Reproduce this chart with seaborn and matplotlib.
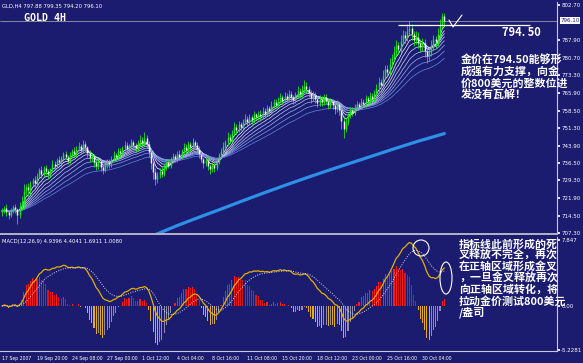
import numpy as np
import pandas as pd
import matplotlib
matplotlib.use("Agg")
import matplotlib.pyplot as plt
import matplotlib.transforms as mtransforms
from matplotlib.lines import Line2D
from matplotlib.patches import Ellipse
import seaborn as sns

# ---------------- data ----------------
first_open = 716.0
close = [
    716.5, 717.8, 716.2, 715.0, 716.8, 718.0, 717.2, 714.8, 718.6, 720.3,
    724.9, 726.4, 725.1, 727.8, 729.6, 728.4, 731.2, 733.5, 732.0, 734.6,
    733.1, 731.8, 734.0, 736.2, 735.4, 737.9, 736.8, 738.5, 740.2, 739.1,
    737.6, 739.8, 741.5, 740.3, 742.6, 743.8, 742.1, 744.5, 743.2, 740.8,
    738.5, 739.6, 736.9, 735.2, 737.4, 734.8, 733.6, 735.9, 737.2, 736.0,
    738.4, 740.1, 739.3, 741.7, 740.6, 742.8, 744.0, 742.5, 743.9, 745.2,
    744.1, 742.7, 744.8, 746.3, 745.0, 747.1, 744.6, 741.2, 736.5, 733.0,
    729.8, 731.6, 733.4, 732.1, 735.0, 736.8, 735.5, 737.9, 739.6, 738.2,
    740.5, 739.3, 741.8, 743.4, 742.0, 744.6, 743.1, 745.3, 744.0, 742.6,
    740.3, 738.1, 736.4, 737.8, 735.2, 733.9, 735.7, 734.5, 737.1, 739.8,
    741.5, 743.9, 745.2, 747.6, 746.3, 749.1, 751.8, 750.4, 752.7, 751.5,
    753.9, 755.2, 753.6, 755.8, 754.4, 756.9, 755.7, 757.3, 756.1, 758.4,
    757.2, 759.6, 758.3, 760.8, 762.1, 760.9, 762.7, 764.0, 762.5, 764.8,
    763.4, 765.6, 764.2, 762.8, 765.1, 766.9, 765.3, 767.5, 769.0, 767.6,
    765.8, 763.9, 765.2, 763.4, 761.7, 763.5, 762.0, 764.3, 762.6, 760.8,
    762.4, 760.7, 759.1, 761.3, 758.6, 754.2, 751.0, 753.8, 756.5, 758.9,
    757.6, 759.8, 761.4, 760.0, 762.3, 761.1, 763.6, 762.4, 764.7, 763.5,
    765.8, 767.9, 770.6, 769.4, 773.2, 775.9, 774.6, 778.1, 780.5, 783.2,
    785.8, 784.3, 787.6, 790.1, 789.0, 791.8, 793.0, 790.4, 788.2, 789.5,
    786.9, 785.3, 786.8, 783.6, 781.2, 782.9, 785.7, 788.4, 787.1, 790.6,
    794.4, 797.9, 796.1,
]
upper_wick = [
    1.2, 0.8, 1.5, 0.6, 1.1, 0.9, 1.3, 0.7, 1.8, 2.4,
    3.1, 1.6, 2.0, 1.2, 0.9, 1.7, 1.4, 1.1, 1.9, 0.8,
    1.3, 1.0, 0.7, 1.5, 1.2, 0.9, 1.6, 1.1, 0.8, 1.4,
    1.0, 1.3, 0.9, 1.7, 1.2, 1.5, 0.8, 1.9, 1.1, 0.7,
    1.3, 1.0, 0.9, 1.4, 1.2, 0.8, 1.1, 1.6, 0.9, 1.2,
    1.0, 1.5, 0.8, 1.3, 1.1, 0.9, 1.6, 1.2, 0.7, 1.4,
    1.1, 0.9, 1.5, 2.0, 1.2, 2.3, 1.4, 1.0, 1.8, 1.3,
    1.6, 1.1, 0.9, 1.4, 1.2, 0.8, 1.5, 1.0, 1.3, 0.9,
    1.2, 1.4, 0.8, 1.6, 1.1, 1.3, 0.9, 1.7, 1.0, 1.2,
    0.9, 1.3, 1.1, 0.8, 1.4, 1.0, 1.2, 0.9, 1.5, 1.1,
    1.3, 1.6, 1.0, 1.8, 1.2, 1.5, 1.9, 1.1, 1.4, 1.0,
    1.3, 1.7, 0.9, 1.2, 1.0, 1.4, 0.8, 1.1, 1.3, 1.5,
    1.0, 1.2, 0.9, 1.6, 1.4, 1.1, 1.3, 1.8, 1.0, 1.5,
    1.2, 1.6, 1.0, 0.9, 1.4, 1.7, 1.1, 1.9, 2.2, 1.3,
    1.0, 1.2, 1.4, 0.9, 1.1, 1.5, 1.0, 1.3, 1.2, 0.8,
    1.4, 1.1, 0.9, 1.5, 1.0, 1.6, 2.1, 1.8, 1.3, 1.2,
    1.0, 1.4, 1.1, 0.9, 1.5, 1.2, 1.3, 1.0, 1.6, 1.1,
    1.4, 1.7, 2.0, 1.3, 2.2, 1.8, 1.5, 2.4, 1.9, 2.3,
    2.1, 1.6, 2.5, 2.0, 1.7, 2.8, 3.2, 1.9, 1.5, 2.2,
    1.8, 1.4, 2.0, 1.6, 1.3, 1.9, 2.2, 1.7, 1.5, 2.4,
    2.6, 1.45, 1.5,
]
lower_wick = [
    1.4, 0.9, 1.6, 1.8, 0.8, 1.0, 1.5, 3.9, 1.2, 1.7,
    2.8, 1.5, 2.2, 1.3, 1.0, 1.8, 1.2, 0.9, 1.6, 1.1,
    1.4, 1.7, 1.0, 0.8, 1.3, 1.1, 0.9, 1.5, 1.2, 1.0,
    1.6, 1.1, 0.8, 1.3, 1.0, 0.9, 1.4, 1.2, 1.5, 1.8,
    1.6, 1.2, 1.9, 1.4, 1.1, 1.7, 1.5, 0.9, 1.2, 1.3,
    0.9, 1.1, 1.4, 1.0, 1.3, 0.8, 1.2, 1.5, 1.0, 0.9,
    1.3, 1.5, 1.0, 0.9, 1.4, 1.1, 1.8, 2.2, 2.6, 2.9,
    2.4, 1.6, 1.2, 1.5, 1.0, 1.3, 1.1, 0.9, 1.4, 1.2,
    1.0, 1.5, 1.1, 0.9, 1.3, 1.0, 1.4, 1.2, 1.1, 1.6,
    1.5, 1.3, 1.9, 1.1, 1.7, 2.0, 1.2, 1.6, 1.0, 1.1,
    0.9, 1.2, 1.0, 1.3, 1.4, 0.9, 1.1, 1.5, 1.0, 1.2,
    0.8, 1.1, 1.4, 1.0, 1.3, 0.9, 1.2, 1.0, 1.4, 1.1,
    1.3, 1.0, 1.2, 0.9, 1.1, 1.5, 1.0, 1.2, 1.4, 0.9,
    1.3, 1.1, 1.5, 1.7, 1.0, 1.2, 1.4, 0.9, 1.1, 1.6,
    1.8, 2.0, 1.3, 1.5, 1.7, 1.1, 1.4, 1.0, 1.3, 1.6,
    1.2, 1.5, 1.8, 1.1, 2.0, 3.4, 3.8, 1.5, 1.2, 1.0,
    1.3, 1.1, 0.9, 1.4, 1.0, 1.2, 0.9, 1.3, 1.1, 1.0,
    1.2, 0.9, 1.4, 1.6, 1.1, 1.3, 1.8, 1.2, 1.5, 1.4,
    1.7, 2.1, 1.3, 1.6, 2.0, 1.4, 1.8, 2.3, 2.6, 1.9,
    2.4, 2.1, 1.7, 2.5, 2.8, 1.9, 1.5, 1.8, 2.2, 1.6,
    1.4, 1.2, 1.9,
]
slow_ma_bars = [60, 70, 80, 90, 100, 110, 120, 130, 140, 150, 160, 170, 180, 190, 202]
slow_ma_vals = [702.0, 706.6, 710.4, 713.9, 717.3, 720.8, 724.2, 727.5, 730.7,
                733.8, 736.8, 739.8, 742.8, 745.7, 748.9]
ribbon_periods = [5, 8, 11, 15, 20, 26, 34, 45]

price_tick_vals = [802.70, 787.90, 780.70, 773.30, 765.90, 758.50, 751.30,
                   743.90, 736.50, 729.30, 721.90, 714.50, 707.30]
price_tick_labels = ["802.70", "787.90", "780.70", "773.30", "765.90", "758.50",
                     "751.30", "743.90", "736.50", "729.30", "721.90", "714.50", "707.30"]
macd_tick_vals = [7.847, 0.0, -5.2281]
macd_tick_labels = ["7.847", "0.00", "-5.2281"]
time_bars = [0, 16, 32, 48, 64, 80, 96, 112, 128, 144, 160, 176, 192]
time_labels = ["17 Sep 2007", "19 Sep 20:00", "24 Sep 08:00", "27 Sep 00:00",
               "1 Oct 12:00", "4 Oct 04:00", "8 Oct 16:00", "11 Oct 08:00",
               "15 Oct 20:00", "18 Oct 12:00", "23 Oct 00:00", "25 Oct 16:00",
               "30 Oct 04:00"]
last_price = 796.10
support_level = 794.50

header_text = "GLD,H4 797.88 799.35 794.20 796.10"
macd_header = "MACD(12,26,9) 4.9396 4.4041 1.6911 1.0080"
note_price = ["金价在794.50能够形", "成强有力支撑，向金", "价800美元的整数位进", "发没有瓦解！"]
note_macd = ["指标线此前形成的死", "叉释放不完全，再次", "在正轴区域形成金叉",
             "，一旦金叉释放再次", "向正轴区域转化，将", "拉动金价测试800美元", "/盎司"]

# ---------------- derived series ----------------
n = len(close)
bars = np.arange(n)
close_s = pd.Series(close, dtype=float)
open_s = close_s.shift(1).fillna(first_open)
high_s = np.maximum(open_s, close_s) + pd.Series(upper_wick)
low_s = np.minimum(open_s, close_s) - pd.Series(lower_wick)

ribbon = pd.concat([
    pd.DataFrame({"bar": bars, "value": close_s.ewm(span=p, adjust=False).mean(), "period": str(p)})
    for p in ribbon_periods
])
ema12 = close_s.ewm(span=12, adjust=False).mean()
ema26 = close_s.ewm(span=26, adjust=False).mean()
macd_main = ema12 - ema26
macd_sig = macd_main.ewm(span=9, adjust=False).mean()
hist = 2.5 * (macd_main - macd_sig)

# ---------------- style ----------------
BG = "#1b1b6f"
FG = "white"
sns.set_theme(style="dark")
plt.rcParams["font.family"] = ["DejaVu Sans"]
CJK = ["Noto Sans CJK SC", "DejaVu Sans"]

W, H = 583, 363
fig = plt.figure(figsize=(W / 100, H / 100), dpi=100, facecolor=BG)


def fx(x):
    return x / W


def fy(y):
    return 1 - y / H


X0, X1 = -2 / 2.19, 555 / 2.19
ax = fig.add_axes([0, fy(234), 557 / W, 232 / H], facecolor=BG)
axm = fig.add_axes([0, fy(351), 557 / W, 114 / H], facecolor=BG)

# ---------------- price panel ----------------
up = close_s >= open_s
ax.vlines(bars, low_s, high_s, color="#22e022", lw=0.6, zorder=3)
ax.vlines(bars[up], open_s[up], close_s[up], color="#22e022", lw=1.05, zorder=4)
ax.vlines(bars[~up], open_s[~up], close_s[~up], color="#f4f4f4", lw=1.05, zorder=4)

ribbon_colors = sns.blend_palette(["#f2f2ff", "#b8c4ee", "#5d7fd8"], len(ribbon_periods))
sns.lineplot(data=ribbon, x="bar", y="value", hue="period",
             hue_order=[str(p) for p in ribbon_periods],
             palette=dict(zip([str(p) for p in ribbon_periods], ribbon_colors)),
             lw=0.55, legend=False, ax=ax, zorder=2)
sns.lineplot(x=slow_ma_bars, y=slow_ma_vals, color="#2e8fe6", lw=2.3, ax=ax, zorder=2)

ax.axhline(last_price, color="#9a9aa8", lw=0.6, zorder=1)
ax.hlines(support_level, (398 - 2) / 2.19, (530 - 2) / 2.19, color=FG, lw=0.9, zorder=5)

ax.set_xlim(X0, X1)
ax.set_ylim(706.88, 803.955)
ax.set_xlabel("")
ax.set_ylabel("")
ax.yaxis.tick_right()
ax.set_yticks(price_tick_vals)
ax.set_yticklabels(price_tick_labels, fontsize=4, color=FG)
ax.tick_params(axis="y", length=2, pad=1, color=FG, direction="out")
ax.tick_params(axis="x", bottom=False, labelbottom=False)
for s in ["top", "left"]:
    ax.spines[s].set_visible(False)
ax.spines["right"].set_color("#c8c8d8")
ax.spines["right"].set_linewidth(0.8)
ax.spines["bottom"].set_color("#b4b4c4")
ax.spines["bottom"].set_linewidth(1.4)
trans = mtransforms.blended_transform_factory(ax.transAxes, ax.transData)
ax.text(1.006, last_price, "796.10", transform=trans, fontsize=4, color=BG,
        va="center", ha="left",
        bbox=dict(boxstyle="square,pad=0.15", fc="white", ec="none"), zorder=6)

# ---------------- MACD panel ----------------
hcol = []
for i, h in enumerate(hist):
    prev = hist.iloc[i - 1] if i > 0 else 0.0
    if h >= 0:
        hcol.append("#ff1c1c" if h >= prev else "#d41818")
    else:
        hcol.append("#e6ac1c" if h < prev else "#8c8cb4")
axm.bar(bars, hist, width=0.5, color=hcol, linewidth=0, zorder=2)
sns.lineplot(x=bars, y=macd_main, color="#e2b000", lw=0.9, ax=axm, zorder=3)
sns.lineplot(x=bars, y=macd_sig, color="#d6d6ea", lw=0.7, ls=(0, (1, 1.5)), ax=axm, zorder=3)

axm.set_xlim(X0, X1)
axm.set_ylim(-5.347, 8.204)
axm.set_xlabel("")
axm.set_ylabel("")
axm.yaxis.tick_right()
axm.set_yticks(macd_tick_vals)
axm.set_yticklabels(macd_tick_labels, fontsize=4, color=FG)
axm.tick_params(axis="y", length=2, pad=1, color=FG, direction="out")
axm.set_xticks(time_bars)
axm.set_xticklabels(time_labels, fontsize=3.3, color=FG)
for t in axm.get_xticklabels():
    t.set_ha("left")
axm.tick_params(axis="x", length=2, pad=1.5, color=FG, direction="out")
for s in ["top", "left"]:
    axm.spines[s].set_visible(False)
for s in ["right", "bottom"]:
    axm.spines[s].set_color("#c8c8d8")
    axm.spines[s].set_linewidth(0.8)

# ---------------- text & annotations ----------------
fig.text(fx(2), fy(6), header_text, fontsize=3.8, color=FG, va="center", ha="left")
fig.text(fx(24), fy(18), "GOLD 4H", fontsize=7.2, color=FG, weight="bold",
         family=["DejaVu Sans Mono"], va="center", ha="left")
fig.text(fx(2), fy(242), macd_header, fontsize=3.8, color=FG, va="center", ha="left")

fig.text(fx(502), fy(32), "794. 50", fontsize=8.0, color=FG, weight="bold",
         family=CJK, va="center", ha="left")
for i, line in enumerate(note_price):
    fig.text(fx(461), fy(60 + 11.5 * i), line, fontsize=7.9, color=FG, weight="bold",
             family=CJK, va="center", ha="left")
for i, line in enumerate(note_macd):
    fig.text(fx(459), fy(244 + 11.4 * i), line, fontsize=7.9, color=FG, weight="bold",
             family=CJK, va="center", ha="left")

fig.add_artist(Line2D([fx(449), fx(453), fx(462)], [fy(20), fy(27), fy(15)],
                      color=FG, lw=0.8, transform=fig.transFigure))
fig.add_artist(Ellipse((fx(421), fy(248)), 16 / W, 16 / H, fill=False, ec=FG, lw=0.8,
                       transform=fig.transFigure))
fig.add_artist(Ellipse((fx(446), fy(278)), 12 / W, 32 / H, fill=False, ec=FG, lw=0.8,
                       transform=fig.transFigure))

fig.savefig("out.png", dpi=100, facecolor=BG)
